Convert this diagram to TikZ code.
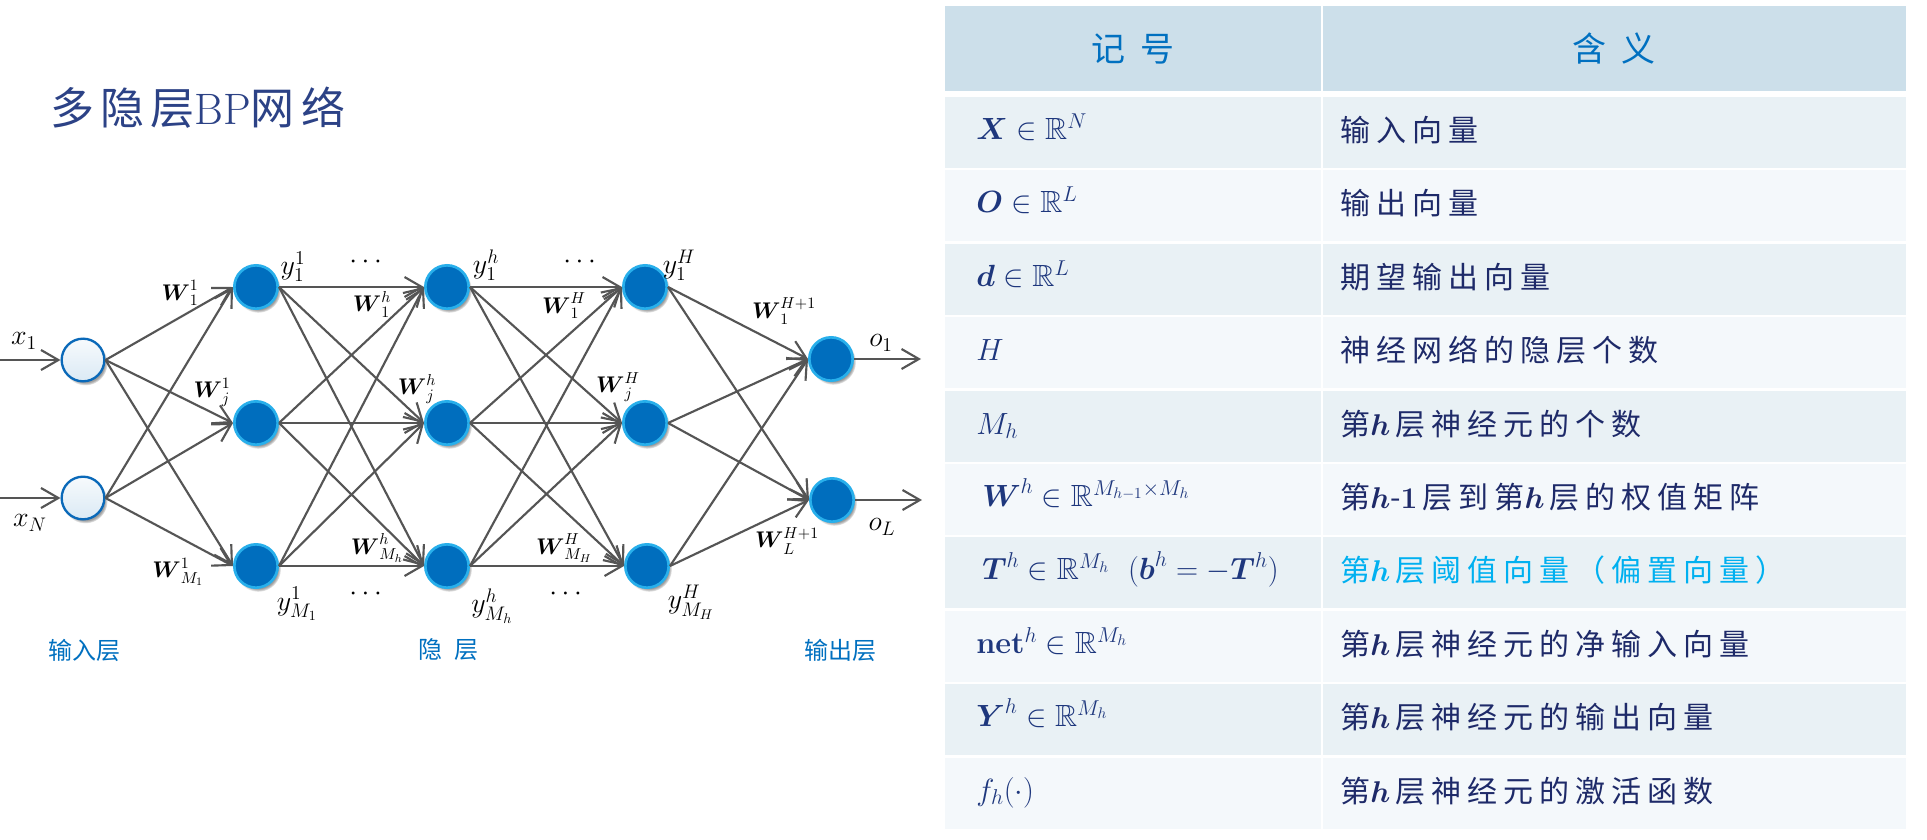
\RequirePackage{fix-cm}
\documentclass[tikz,border=0pt]{standalone}
\usepackage{amsmath,amssymb}
\usepackage[no-math]{fontspec}
\newfontfamily\cjk{Noto Sans CJK SC}
\newfontfamily\cjksp{Noto Sans CJK SC}[LetterSpace=20]
\newfontfamily\cjkti{Noto Sans CJK SC}[LetterSpace=14]
\usetikzlibrary{arrows.meta,shadows,fadings}
\definecolor{edgegray}{RGB}{85,85,85}
\definecolor{nodeblue}{RGB}{0,110,190}
\definecolor{ringblue}{RGB}{40,175,235}
\definecolor{inring}{RGB}{10,105,185}
\definecolor{infill}{RGB}{228,238,246}
\definecolor{labblue}{RGB}{0,112,192}
\definecolor{titleblue}{RGB}{44,66,134}
\definecolor{hdrfill}{RGB}{204,223,234}
\definecolor{rowA}{RGB}{233,241,245}
\definecolor{rowB}{RGB}{244,248,251}
\definecolor{mathblue}{RGB}{30,55,125}
\definecolor{cjkblue}{RGB}{30,42,105}
\definecolor{hiblue}{RGB}{0,176,240}
\begin{document}
\begin{tikzpicture}[x=0.75pt,y=-0.75pt,
  nshadow/.style={circular drop shadow={shadow xshift=1.6pt, shadow yshift=-2.2pt, shadow scale=1.05, fill=black!70, opacity=0.55}},
  innode/.style={circle, minimum size=32pt, inner sep=0pt, line width=1.75pt, draw=inring, top color=white!70!infill, bottom color=infill!85!labblue!60!white, nshadow},
  hnode/.style={circle, minimum size=32.5pt, inner sep=0pt, line width=2pt, draw=ringblue, fill=nodeblue, nshadow},
  conn/.style={draw=edgegray, line width=1.6pt, -{Straight Barb[length=13pt,width=15pt]}},
  wlab/.style={inner sep=0pt, font=\fontsize{17}{20}\selectfont},
  ylab/.style={inner sep=0pt, font=\fontsize{21}{25}\selectfont},
  blab/.style={inner sep=0pt, text=labblue, font=\fontsize{18}{22}\cjk},
  hdr/.style={inner sep=0pt, text=labblue, font=\fontsize{25.5}{30}\cjk},
  cma/.style={anchor=base west, inner sep=0pt, text=mathblue, font=\fontsize{23}{27}\selectfont},
  ctx/.style={anchor=base west, inner sep=0pt, text=cjkblue, font=\fontsize{22.5}{27}\cjksp}]
\useasboundingbox (0,0) rectangle (1927,839);
\fill[white] (0,0) rectangle (1927,839);

% title
\node[anchor=base west, inner sep=0pt, text=titleblue] (title) at (50,124)
  {\fontsize{33}{38}\cjkti 多隐层{\rmfamily BP}网络};

% network nodes
\node[innode] (i1) at (83,360) {};
\node[innode] (iN) at (83,498) {};
\node[hnode] (a1) at (256,287) {};
\node[hnode] (a2) at (256,423) {};
\node[hnode] (a3) at (256,566) {};
\node[hnode] (b1) at (447,287) {};
\node[hnode] (b2) at (447,423) {};
\node[hnode] (b3) at (447,566) {};
\node[hnode] (c1) at (645,287) {};
\node[hnode] (c2) at (645,423) {};
\node[hnode] (c3) at (647,566) {};
\node[hnode] (o1) at (831,359) {};
\node[hnode] (oL) at (832,500) {};

\coordinate (x1s) at (0,360);
\coordinate (xNs) at (0,498);
\coordinate (o1e) at (921,359);
\coordinate (oLe) at (922,500);

% connectors
\draw[conn] (x1s) -- (i1.west);
\draw[conn] (xNs) -- (iN.west);
\foreach \s in {i1,iN} \foreach \t in {a1,a2,a3} \draw[conn] (\s.east) -- (\t.west);
\foreach \s in {a1,a2,a3} \foreach \t in {b1,b2,b3} \draw[conn] (\s.east) -- (\t.west);
\foreach \s in {b1,b2,b3} \foreach \t in {c1,c2,c3} \draw[conn] (\s.east) -- (\t.west);
\foreach \s in {c1,c2,c3} \foreach \t in {o1,oL} \draw[conn] (\s.east) -- (\t.west);
\draw[conn] (o1.east) -- (o1e);
\draw[conn] (oL.east) -- (oLe);

% labels
\node[ylab] (lx1) at (24,341) {$x_1$};
\node[ylab] (lxN) at (30,523) {$x_N$};
\node[wlab] (w11) at (180,293) {$\boldsymbol{W}^1_1$};
\node[wlab] (w1j) at (212,392) {$\boldsymbol{W}^1_j$};
\node[wlab] (w1M) at (178,572) {$\boldsymbol{W}^1_{M_1}$};
\node[ylab] (y11) at (293,267) {$y^1_1$};
\node[ylab] (y1M) at (297,604) {$y^1_{M_1}$};
\node[ylab] (d1) at (368,262) {$\cdots$};
\node[ylab] (d2) at (582,262) {$\cdots$};
\node[ylab] (d3) at (368,594) {$\cdots$};
\node[ylab] (d4) at (568,594) {$\cdots$};
\node[wlab] (wh1) at (372,304) {$\boldsymbol{W}^h_1$};
\node[wlab] (whj) at (417,389) {$\boldsymbol{W}^h_j$};
\node[wlab] (whM) at (377,548) {$\boldsymbol{W}^h_{M_h}$};
\node[ylab] (yh1) at (486,265) {$y^h_1$};
\node[ylab] (yhM) at (492,606) {$y^h_{M_h}$};
\node[wlab] (wH1) at (564,306) {$\boldsymbol{W}^H_1$};
\node[wlab] (wHj) at (618,387) {$\boldsymbol{W}^H_j$};
\node[wlab] (wHM) at (564,548) {$\boldsymbol{W}^H_{M_H}$};
\node[ylab] (yH1) at (679,265) {$y^H_1$};
\node[ylab] (yHM) at (691,602) {$y^H_{M_H}$};
\node[wlab] (wO1) at (784,311) {$\boldsymbol{W}^{H+1}_1$};
\node[wlab] (wOL) at (787,541) {$\boldsymbol{W}^{H+1}_L$};
\node[ylab] (lo1) at (881,343) {$o_1$};
\node[ylab] (loL) at (882,527) {$o_L$};

% layer names
\node[blab] (ln1) at (84,650) {输入层};
\node[blab] (ln2) at (448,650) {隐\hspace{9pt}层};
\node[blab] (ln3) at (840,650) {输出层};

% table
\fill[hdrfill] (945,6) rectangle (1321,91);
\fill[hdrfill] (1323,6) rectangle (1906,91);
\foreach \i in {1,...,10} {
  \pgfmathsetmacro\rtop{97+(\i-1)*73.4}
  \pgfmathsetmacro\rbot{\rtop+71}
  \ifodd\i \def\rc{rowA}\else\def\rc{rowB}\fi
  \fill[\rc] (945,\rtop) rectangle (1321,\rbot);
  \fill[\rc] (1323,\rtop) rectangle (1906,\rbot);
}
\node[hdr] (h1) at (1133,48.5) {记\hspace{11pt}号};
\node[hdr] (h2) at (1614,48.5) {含\hspace{11pt}义};

\node[cma] (m1) at (976,139.5) {$\boldsymbol{X}\in\mathbb{R}^N$};
\node[cma] (m2) at (976,212.9) {$\boldsymbol{O}\in\mathbb{R}^L$};
\node[cma] (m3) at (976,286.3) {$\boldsymbol{d}\in\mathbb{R}^L$};
\node[cma] (m4) at (976,360.7) {$H$};
\node[cma] (m5) at (976,434.1) {$M_h$};
\node[cma] (m6) at (982,506.5) {$\boldsymbol{W}^h\in\mathbb{R}^{M_{h-1}\times M_h}$};
\node[cma] (m7) at (982,579.9) {$\boldsymbol{T}^h\in\mathbb{R}^{M_h}\ \ (\boldsymbol{b}^h=-\boldsymbol{T}^h)$};
\node[cma] (m8) at (976,653.3) {$\mathbf{net}^h\in\mathbb{R}^{M_h}$};
\node[cma] (m9) at (976,726.7) {$\boldsymbol{Y}^h\in\mathbb{R}^{M_h}$};
\node[cma] (m10) at (976,800.1) {$f_h(\cdot)$};

\node[ctx] (t1) at (1340,141.5) {输入向量};
\node[ctx] (t2) at (1340,214.9) {输出向量};
\node[ctx] (t3) at (1340,288.3) {期望输出向量};
\node[ctx] (t4) at (1340,361.7) {神经网络的隐层个数};
\node[ctx] (t5) at (1340,435.1) {第$\boldsymbol{h}$\,层神经元的个数};
\node[ctx] (t6) at (1340,508.5) {第$\boldsymbol{h}$-$\mathbf{1}$\,层到第$\boldsymbol{h}$\,层的权值矩阵};
\node[ctx, text=hiblue] (t7) at (1340,581.9) {第$\boldsymbol{h}$\,层阈值向量（偏置向量）};
\node[ctx] (t8) at (1340,655.3) {第$\boldsymbol{h}$\,层神经元的净输入向量};
\node[ctx] (t9) at (1340,728.7) {第$\boldsymbol{h}$\,层神经元的输出向量};
\node[ctx] (t10) at (1340,802.1) {第$\boldsymbol{h}$\,层神经元的激活函数};
\end{tikzpicture}
\end{document}
